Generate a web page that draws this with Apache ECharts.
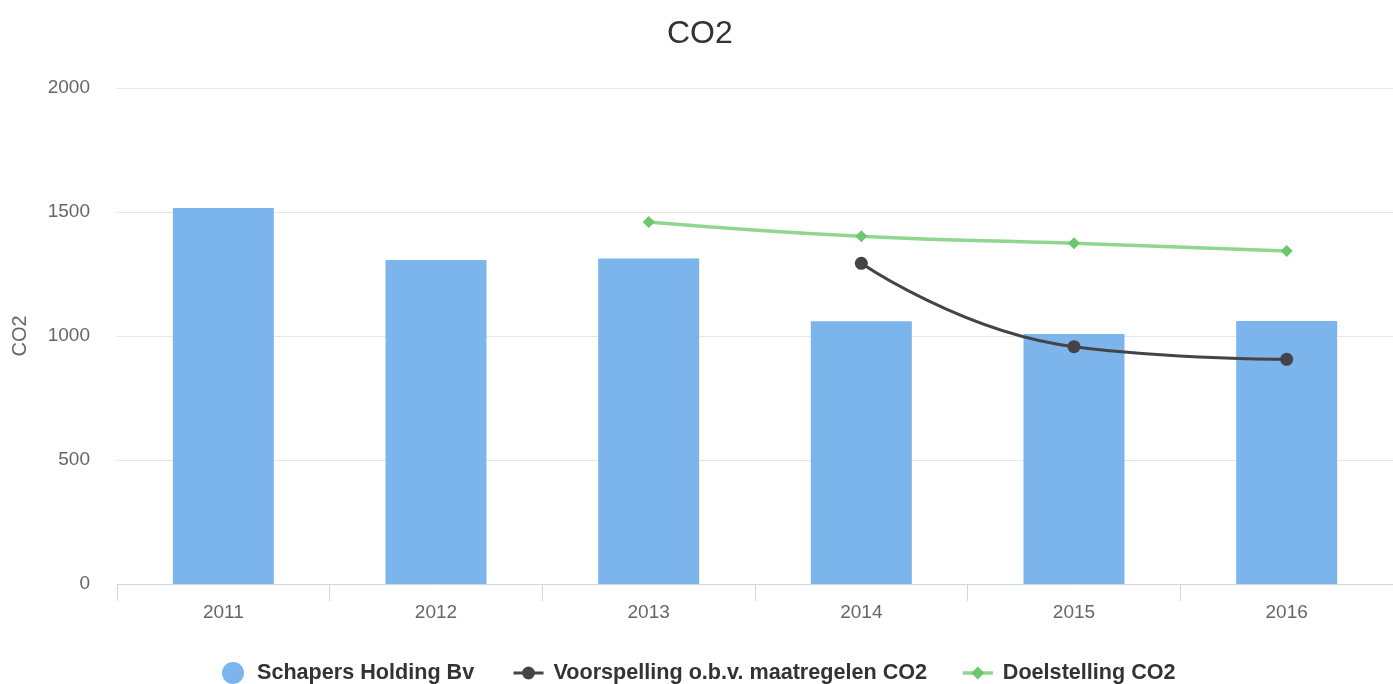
<!DOCTYPE html>
<html><head><meta charset="utf-8">
<script src="https://cdn.jsdelivr.net/npm/echarts@6/dist/echarts.min.js"></script>
<style>html,body{margin:0;padding:0;background:#fff}#c{width:1393px;height:684px}</style>
</head><body><div id="c"></div>
<script>
const categories = ['2011','2012','2013','2014','2015','2016'];
const actual = [1516, 1306, 1313, 1059, 1008, 1060];
const forecast = [null, null, null, 1293, 957, 906];
const target = [null, null, 1460, 1402, 1374, 1343];
const yTicks = [0, 500, 1000, 1500, 2000];
const seriesNames = ['Schapers Holding Bv', 'Voorspelling o.b.v. maatregelen CO2', 'Doelstelling CO2'];

const chart = echarts.init(document.getElementById('c'));
const font = 'Liberation Sans, Arial, sans-serif';
const legendText = { fontFamily: font, fontSize: 21.6, lineHeight: 22, fontWeight: 'bold', color: '#333' };
chart.setOption({
  animation: false,
  title: { text: 'CO2', left: 662, top: 13, textStyle: { fontFamily: font, fontSize: 32, fontWeight: 'normal', color: '#333' } },
  legend: [
    {
      top: 662, left: 222, padding: 0, itemWidth: 24, itemHeight: 22,
      textStyle: Object.assign({}, legendText, { padding: [0, 0, 0, 7] }),
      data: [{ name: seriesNames[0], icon: 'circle' }]
    },
    {
      top: 662, left: 512, padding: 0, itemGap: 34, itemWidth: 30, itemHeight: 16,
      textStyle: Object.assign({}, legendText, { padding: [0, 0, 0, 5] }),
      data: [
        { name: seriesNames[1], lineStyle: { width: 3 } },
        { name: seriesNames[2], lineStyle: { width: 3.5 } }
      ]
    }
  ],
  grid: { left: 117, right: 0, top: 88, bottom: 100 },
  xAxis: {
    type: 'category', data: categories,
    axisLine: { lineStyle: { color: '#ccd6eb' } },
    axisTick: { show: true, length: 17, lineStyle: { color: '#ccd6eb' } },
    axisLabel: { fontFamily: font, fontSize: 19, color: '#666', margin: 19 }
  },
  yAxis: {
    type: 'value', min: yTicks[0], max: yTicks[yTicks.length - 1], interval: 500,
    name: 'CO2', nameLocation: 'middle', nameGap: 87, nameRotate: 90,
    nameTextStyle: { fontFamily: font, fontSize: 20, color: '#666' },
    axisLabel: { fontFamily: font, fontSize: 19, color: '#666', margin: 27, formatter: v => String(v) },
    splitLine: { lineStyle: { color: '#e6e6e6' } },
    axisLine: { show: false }, axisTick: { show: false }
  },
  series: [
    { name: seriesNames[0], type: 'bar', data: actual, barWidth: '47.5%', itemStyle: { color: '#7cb5ec' } },
    { name: seriesNames[1], type: 'line', data: forecast, smooth: 0.5,
      symbol: 'circle', symbolSize: 13, lineStyle: { width: 3, color: '#434348' }, itemStyle: { color: '#434348' } },
    { name: seriesNames[2], type: 'line', data: target, smooth: 0.5,
      symbol: 'diamond', symbolSize: 12, lineStyle: { width: 3.5, color: '#90d690' }, itemStyle: { color: '#6cc66c' } }
  ]
});
</script></body></html>
